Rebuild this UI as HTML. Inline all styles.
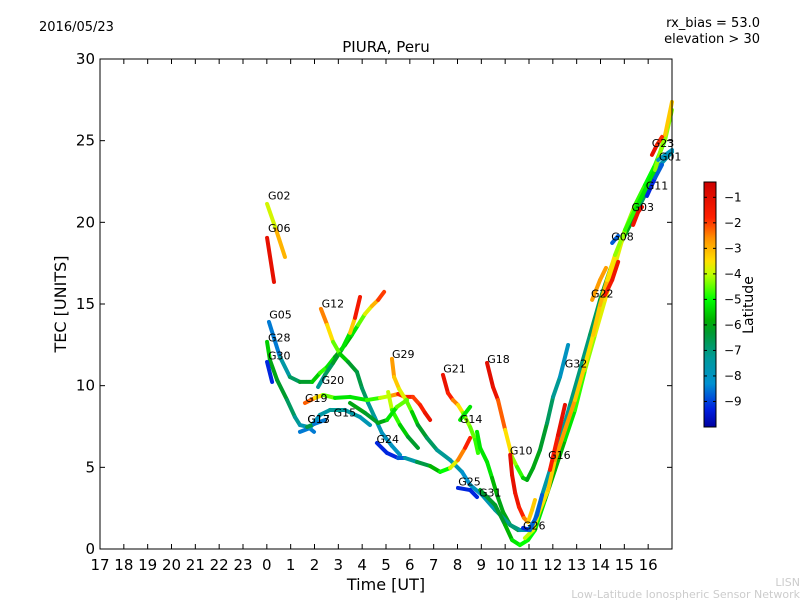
<!DOCTYPE html>
<html><head><meta charset="utf-8"><style>
body{margin:0;background:#fff;}
svg{display:block;font-family:"DejaVu Sans","Liberation Sans",sans-serif;}
</style></head><body>
<svg id="chart" width="800" height="600" viewBox="0 0 800 600" xmlns="http://www.w3.org/2000/svg">
<rect width="800" height="600" fill="#fff"/>
<text x="39" y="31" font-size="13">2016/05/23</text>
<text x="760" y="27" font-size="13" text-anchor="end">rx_bias = 53.0</text>
<text x="760" y="43" font-size="13" text-anchor="end">elevation &gt; 30</text>
<text x="386" y="52" font-size="15" text-anchor="middle">PIURA, Peru</text>
<g id="marks"></g>
<g id="labels" font-size="11"></g>
<rect x="100" y="59" width="572" height="490" fill="none" stroke="#000" stroke-width="1"/>
<g id="axes"></g>
<text transform="translate(66,304) rotate(-90)" font-size="16" text-anchor="middle">TEC [UNITS]</text>
<text x="386" y="590" font-size="16" text-anchor="middle">Time [UT]</text>
<defs><linearGradient id="cmap" x1="0" y1="1" x2="0" y2="0"></linearGradient></defs>
<g id="cbar"></g>
<text transform="translate(753,305) rotate(-90)" font-size="14" text-anchor="middle">Latitude</text>
<text x="800" y="586" font-size="11" fill="#ccc" text-anchor="end">LISN</text>
<text x="800" y="598" font-size="11" fill="#ccc" text-anchor="end">Low-Latitude Ionospheric Sensor Network</text>
</svg>
<script>
const xTickLabels=["17","18","19","20","21","22","23","0","1","2","3","4","5","6","7","8","9","10","11","12","13","14","15","16"];
const yTicks=[0,5,10,15,20,25,30];
const cbarTicks=[-1,-2,-3,-4,-5,-6,-7,-8,-9];
// each track: hours since 17 UT, TEC, latitude
const G02_t=[7.01,7.39,7.76], G02_v=[21.13,19.54,17.88], G02_l=[-4.2,-3.5,-2.5];
const G06_t=[7.01,7.30], G06_v=[19.05,16.35], G06_l=[-1,-1.2];
const G05_t=[7.09,7.55,7.97,8.39,8.90,9.23,9.53,9.86,10.28,10.57,10.83,11.12,11.41,11.67,11.92];
const G05_v=[13.90,11.76,10.53,10.23,10.23,10.78,11.15,11.76,12.49,13.11,13.72,14.39,14.88,15.25,15.74];
const G05_l=[-9,-8,-7,-6.5,-6,-5,-4.5,-6,-6,-5.5,-5,-4,-3.5,-2.5,-1.5];
const G20_t=[9.15,9.44,9.78,10.16,10.49,10.70,10.91], G20_v=[9.92,10.66,11.39,12.25,13.23,14.15,15.43], G20_l=[-7.5,-7,-6.5,-6,-4.5,-2,-1];
const G12_t=[9.27,9.53,9.78,10.07,10.41,10.78,10.99,11.25,11.54,11.83,12.25,12.59];
const G12_v=[14.70,13.72,12.68,11.94,11.45,10.84,9.86,8.94,8.02,7.10,6.31,5.76];
const G12_l=[-2,-3,-4,-5,-6,-6.5,-6.5,-7,-7.5,-8,-8,-8];
const G28_t=[7.01,7.13,7.43,7.85,8.18,8.39,8.73,8.98], G28_v=[12.68,11.57,10.35,9.12,8.08,7.59,7.47,7.17], G28_l=[-5,-6,-6,-6.5,-7,-7.5,-8,-9];
const G30_t=[7.01,7.22], G30_v=[11.45,10.23], G30_l=[-9,-9.5];
const G19_t=[8.60,9.02,9.36,9.86,10.49,11.20,11.75,12.17,12.51,12.80,13.13,13.43,13.64,13.85];
const G19_v=[8.94,9.25,9.43,9.25,9.31,9.12,9.25,9.37,9.49,9.31,9.31,8.82,8.33,7.90];
const G19_l=[-1.5,-3,-4,-5,-5.5,-5,-4.5,-3.5,-2,-1.5,-2,-2,-1.5,-1];
const G29_t=[12.25,12.34,12.55,12.84,13.09,13.34,13.72,14.14,14.69,15.19,15.53];
const G29_v=[11.64,10.53,9.80,9.12,8.39,7.59,6.80,6.06,5.45,4.72,3.92];
const G29_l=[-2.5,-3,-3.5,-4,-5,-6,-6.5,-7,-7.5,-8,-8.5];
const G09_t=[12.09,12.25,12.59,12.93,13.34], G09_v=[9.61,8.51,7.59,6.86,6.19], G09_l=[-3.5,-4.5,-5,-6,-6.5];
const G15_t=[8.39,8.81,9.23,9.65,10.28,10.91,11.33], G15_v=[7.17,7.41,8.21,8.51,8.51,8.08,7.59], G15_l=[-9,-8,-8,-7,-7.5,-7.5,-8];
const G17_t=[8.69,8.98,9.44], G17_v=[7.47,7.65,7.90], G17_l=[-4,-9,-8];
const G13_t=[10.49,11.12,11.67,12.04,12.46,12.88], G13_v=[8.94,8.33,7.72,7.90,8.70,9.12], G13_l=[-6,-6,-6.5,-5.5,-5,-4];
const G24_t=[11.62,12.04,12.51,12.80,13.30,13.85,14.27,14.69,15.02,15.32,15.53];
const G24_v=[6.49,5.88,5.57,5.57,5.33,5.08,4.72,4.96,5.45,6.19,6.80];
const G24_l=[-9.5,-9,-9.5,-8,-7,-6,-5.5,-4.5,-3,-2,-1.5];
const G21_t=[14.39,14.60,14.81,15.02,15.23,15.53,15.74,15.86], G21_v=[10.66,9.55,9.12,8.82,8.33,7.47,6.68,5.88], G21_l=[-1,-1.5,-2,-3,-4,-4.5,-4.5,-5];
const G14_t=[15.11,15.53], G14_v=[7.90,8.70], G14_l=[-6,-4.5];
const G14b_t=[15.82,15.95,16.24,16.45,16.66,16.91,17.21,17.54], G14b_v=[7.17,6.19,5.33,4.35,3.31,2.27,1.47,1.16], G14b_l=[-5,-5.5,-5,-5.5,-6,-6,-6,-6.5];
const G18_t=[16.24,16.49,16.70,17.00,17.29,17.50,17.75,17.92,18.17,18.46,18.76,19.01,19.30,19.64];
const G18_v=[11.39,9.92,9.12,7.29,5.63,5.02,4.35,4.23,4.96,6.06,7.72,9.31,10.53,12.49];
const G18_l=[-1,-1,-1.5,-3,-4,-4.5,-5,-6,-6,-6,-6.5,-7,-7.5,-8.5];
const G10_t=[17.21,17.29,17.42,17.58,17.79,17.96,18.13,18.25], G10_v=[5.76,4.53,3.43,2.57,1.90,1.65,2.39,3.00], G10_l=[-1,-1,-1.2,-1.5,-2,-3,-3.5,-3];
const V1_t=[15.95,16.58,17.00,17.29,17.62,17.96,18.25,18.67,19.09,19.51,19.93,20.35,20.77,21.19,21.61,22.03,22.45,22.87,23.29,23.71,24.00];
const V1_v=[3.61,2.69,1.47,0.55,0.24,0.55,1.16,3.00,4.84,6.68,8.51,10.96,13.11,15.25,17.39,19.54,21.07,22.29,23.52,25.05,26.88];
const V1_l=[-6,-6.5,-6,-5.5,-5,-5,-5,-5.5,-6,-5.5,-5,-4.5,-4,-3.5,-3.5,-4,-4.5,-5,-5,-4.5,-4];
const V2_t=[15.53,16.03,16.58,17.21,17.62,17.96,18.25,18.55,18.88,19.30,19.72,20.14,20.56,20.98,21.40,21.82,22.24,22.66,23.08,23.50,24.00];
const V2_v=[3.92,3.31,2.39,1.47,1.16,1.16,1.78,3.31,4.84,6.68,8.82,10.96,13.11,15.25,17.08,18.62,19.84,21.07,22.29,23.52,24.31];
const V2_l=[-8,-8,-7.5,-7,-7,-8,-8,-7.5,-7.5,-7.5,-7,-7,-7,-6.5,-6,-6,-6,-6.5,-7,-7.5,-8];
const V3_t=[17.83,18.17,18.46,18.80,19.09,19.51,19.93,20.35,20.69,20.98,21.28,21.61,22.03,22.45,22.87,23.29,23.71,24.00];
const V3_v=[0.67,1.16,2.39,3.61,5.45,7.29,9.12,11.27,13.11,14.94,16.47,18.00,19.54,20.76,21.98,23.21,25.35,27.37];
const V3_l=[-4,-4,-3.5,-3.5,-3,-2.5,-3,-3.5,-3.5,-3,-3,-4,-4.5,-5,-5.5,-5,-3.5,-3];
const G16_t=[18.88,19.22,19.51], G16_v=[4.84,6.98,8.82], G16_l=[-2,-1.2,-1];
const G22_t=[21.19,21.49,21.74], G22_v=[15.55,16.47,17.58], G22_l=[-1.5,-1.5,-1.2];
const G22b_t=[20.65,20.98,21.23], G22b_v=[15.25,16.47,17.21], G22b_l=[-2.5,-3,-2.5];
const G03_t=[22.37,22.58,22.74], G03_v=[19.84,20.64,20.94], G03_l=[-1.5,-1.2,-1];
const G23_t=[23.16,23.37,23.58], G23_v=[24.13,24.74,25.23], G23_l=[-1,-1.2,-2.5];
const G11_t=[22.95,23.29,23.58], G11_v=[21.62,22.72,23.52], G11_l=[-9.5,-9,-8.5];
const G08_t=[21.49,21.74], G08_v=[18.74,19.17], G08_l=[-9,-8.5];
const G01_t=[23.42,24.00], G01_v=[23.82,24.43], G01_l=[-8,-8];
const G25_t=[15.02,15.53,15.82], G25_v=[3.74,3.61,3.18], G25_l=[-9.5,-9,-9.5];
const G26_t=[17.75,18.04,18.34,18.55], G26_v=[1.29,1.16,2.08,3.31], G26_l=[-9.5,-9,-8.5,-9];

const tracks=[["g02",G02_t,G02_v,G02_l],["g06",G06_t,G06_v,G06_l],["g05",G05_t,G05_v,G05_l],["g20",G20_t,G20_v,G20_l],["g12",G12_t,G12_v,G12_l],["g28",G28_t,G28_v,G28_l],["g30",G30_t,G30_v,G30_l],["g19",G19_t,G19_v,G19_l],["g29",G29_t,G29_v,G29_l],["g09",G09_t,G09_v,G09_l],["g15",G15_t,G15_v,G15_l],["g17",G17_t,G17_v,G17_l],["g13",G13_t,G13_v,G13_l],["g24",G24_t,G24_v,G24_l],["g21",G21_t,G21_v,G21_l],["g14",G14_t,G14_v,G14_l],["g14b",G14b_t,G14b_v,G14b_l],["g18",G18_t,G18_v,G18_l],["g10",G10_t,G10_v,G10_l],["g31",V2_t,V2_v,V2_l],["g32",V1_t,V1_v,V1_l],["g16b",V3_t,V3_v,V3_l],["g16",G16_t,G16_v,G16_l],["g22",G22_t,G22_v,G22_l],["g22b",G22b_t,G22b_v,G22b_l],["g03",G03_t,G03_v,G03_l],["g23",G23_t,G23_v,G23_l],["g11",G11_t,G11_v,G11_l],["g08",G08_t,G08_v,G08_l],["g01",G01_t,G01_v,G01_l],["g25",G25_t,G25_v,G25_l],["g26",G26_t,G26_v,G26_l]];

const labelNames=["G02","G06","G05","G28","G30","G12","G20","G19","G13","G17","G15","G29","G24","G21","G14","G18","G10","G25","G31","G26","G16","G32","G22","G08","G03","G11","G23","G01"];
const labelT=[7.05,7.05,7.1,7.05,7.05,9.3,9.3,8.6,8.7,8.7,9.8,12.25,11.6,14.4,15.1,16.25,17.2,15.03,15.9,17.75,18.8,19.5,20.6,21.45,22.3,22.9,23.15,23.45];
const labelV=[21.4,19.4,14.1,12.7,11.6,14.8,10.1,9.0,7.7,7.7,8.1,11.7,6.5,10.8,7.7,11.4,5.8,3.9,3.2,1.2,5.5,11.1,15.4,18.9,20.7,22.0,24.6,23.8];

// colormap (latitude -> colour)
const CMAP_LAT=[-10,-9.3,-8.3,-7.3,-6.3,-5.8,-5,-4,-3.5,-2.6,-1.8,-0.4];
const CMAP_COL=[[0,0,160],[0,32,224],[0,144,208],[0,154,154],[0,154,48],[0,176,0],[0,255,0],[192,255,0],[255,224,0],[255,144,0],[255,32,0],[204,0,0]];

const X0=100,X1=672,Y0=549,Y1=59;
const xs=h=>X0+h*(X1-X0)/24;
const ys=v=>Y0-v*(Y0-Y1)/30;
const VMIN=-10,VMAX=-0.4;
function cmap(lat){
 if(lat<=CMAP_LAT[0])return `rgb(${CMAP_COL[0]})`;
 for(let i=0;i<CMAP_LAT.length-1;i++){
  if(lat<=CMAP_LAT[i+1]){const f=(lat-CMAP_LAT[i])/(CMAP_LAT[i+1]-CMAP_LAT[i]);
   const a=CMAP_COL[i],b=CMAP_COL[i+1];
   return `rgb(${a.map((c,k)=>Math.round(c+(b[k]-c)*f)).join(',')})`;}
 }
 return `rgb(${CMAP_COL[CMAP_COL.length-1]})`;
}
const NS="http://www.w3.org/2000/svg";
const grad=document.getElementById('cmap');
CMAP_LAT.forEach((l,i)=>{const s=document.createElementNS(NS,'stop');
 s.setAttribute('offset',(l-VMIN)/(VMAX-VMIN));s.setAttribute('stop-color',`rgb(${CMAP_COL[i]})`);grad.appendChild(s);});
const marks=document.getElementById('marks');
tracks.forEach(tr=>{
 const [name,T,V,L]=tr;
 const g=document.createElementNS(NS,'g');
 
 
 for(let i=0;i<T.length-1;i++){
  const seg=document.createElementNS(NS,'line');
  seg.setAttribute('x1',xs(T[i]));seg.setAttribute('y1',ys(V[i]));
  seg.setAttribute('x2',xs(T[i+1]));seg.setAttribute('y2',ys(V[i+1]));
  seg.setAttribute('stroke',cmap((L[i]+L[i+1])/2));
  seg.setAttribute('stroke-width','4');seg.setAttribute('stroke-linecap','round');
  
  
  g.appendChild(seg);
 }
 marks.appendChild(g);
});
const labels=document.getElementById('labels');
labelNames.forEach((n,i)=>{
 const t=document.createElementNS(NS,'text');
 t.setAttribute('x',xs(labelT[i]));t.setAttribute('y',ys(labelV[i]));
 t.textContent=n;
 
 
 labels.appendChild(t);
});
const axes=document.getElementById('axes');
function add(tag,attrs,parent,text){const e=document.createElementNS(NS,tag);for(const k in attrs)e.setAttribute(k,attrs[k]);if(text!==undefined)e.textContent=text;parent.appendChild(e);return e;}
xTickLabels.forEach((lab,i)=>{
 const x=xs(i);
 const a=add('line',{x1:x,x2:x,y1:Y0,y2:Y0-5,stroke:'#000'},axes);
 
 const b=add('line',{x1:x,x2:x,y1:Y1,y2:Y1+5,stroke:'#000'},axes);
 
 const t=add('text',{x:x,y:570,'font-size':'15','text-anchor':'middle'},axes,lab);
 
 
});
yTicks.forEach(v=>{
 const y=ys(v);
 const a=add('line',{x1:X0,x2:X0+5,y1:y,y2:y,stroke:'#000'},axes);
 
 const b=add('line',{x1:X1,x2:X1-5,y1:y,y2:y,stroke:'#000'},axes);
 
 const t=add('text',{x:95,y:y+5,'font-size':'15','text-anchor':'end'},axes,String(v));
 
 
});
const cb=document.getElementById('cbar');
const CX=704,CW=12,CT=182,CB=427;
const cy=l=>CB-(l-VMIN)/(VMAX-VMIN)*(CB-CT);
const r=add('rect',{x:CX,y:CT,width:CW,height:CB-CT,fill:'url(#cmap)',stroke:'#000','stroke-width':'1'},cb);

cbarTicks.forEach(l=>{
 const y=cy(l);
 add('line',{x1:CX,x2:CX+3,y1:y,y2:y,stroke:'#000'},cb);
 add('line',{x1:CX+CW,x2:CX+CW-3,y1:y,y2:y,stroke:'#000'},cb);
 const t=add('text',{x:724,y:y+4,'font-size':'12'},cb,'\u2212'+Math.abs(l));
 
 
});
</script>
</body></html>
